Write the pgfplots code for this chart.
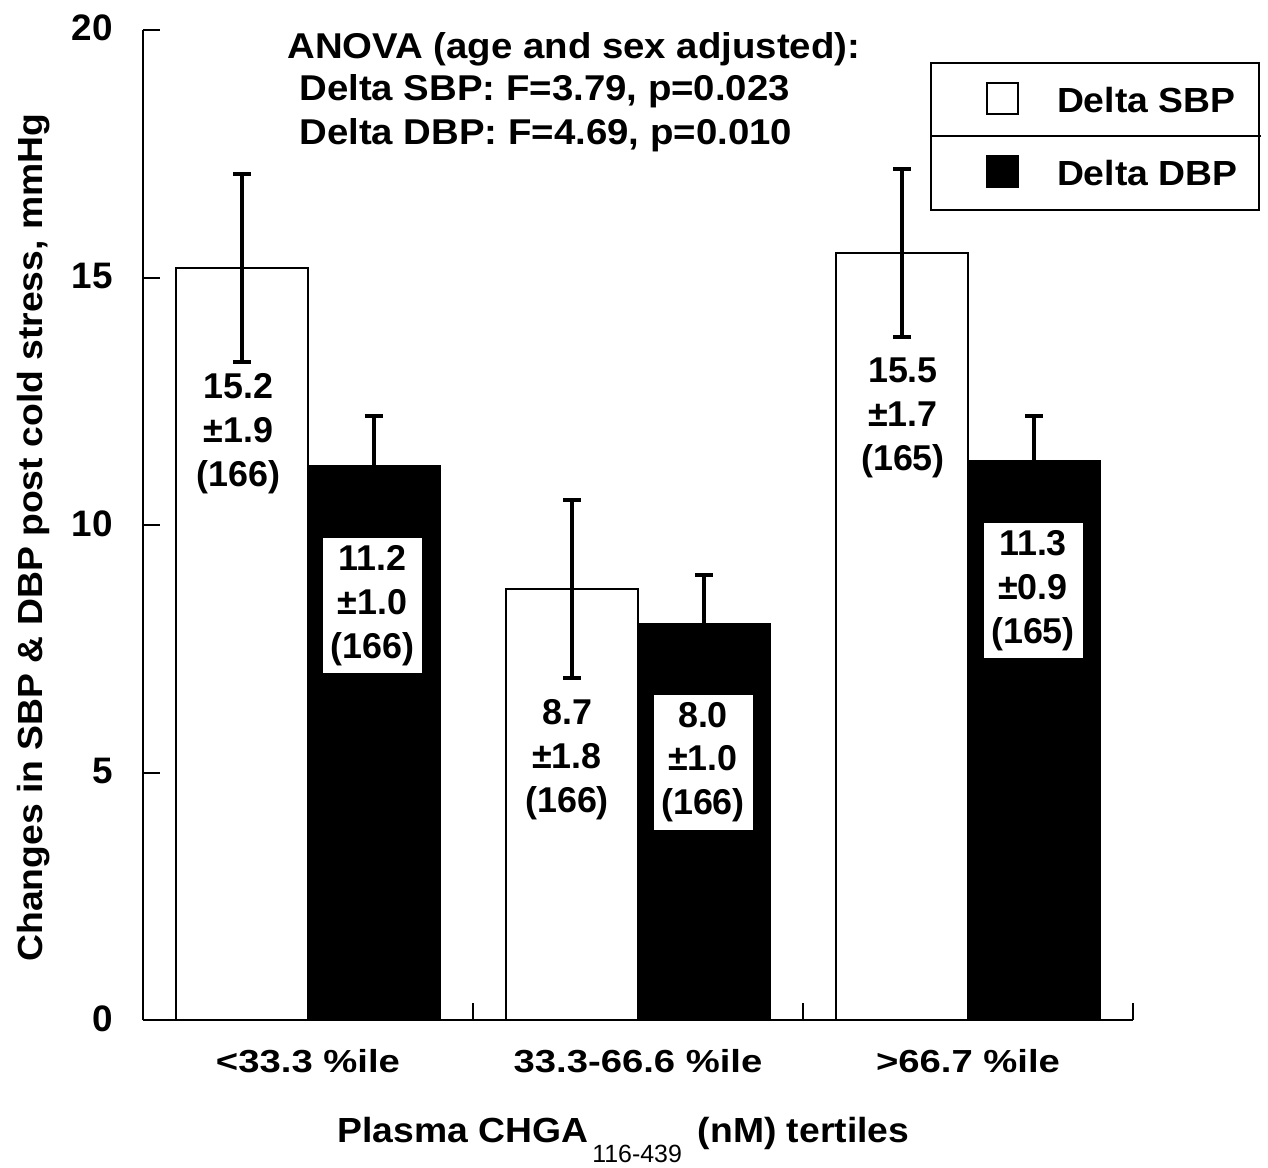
\documentclass[border=0pt]{standalone}
\usepackage{pgfplots}
\pgfplotsset{compat=1.18}
\usepackage{fontspec}
\setmainfont{Liberation Sans}[FakeStretch=1.07]
\newfontfamily\plainfont{Liberation Sans}
\newfontfamily\widefont{Liberation Sans}[FakeStretch=1.2]
\begin{document}
\begin{tikzpicture}
\begin{axis}[
  scale only axis, width=495bp, height=495bp,
  xmin=0, xmax=3, ymin=0, ymax=20,
  axis lines*=left,
  axis line style={line width=1bp, black},
  clip=false,
  xtick={1,2,3}, xticklabels={},
  extra x ticks={0.5,1.5,2.5},
  extra x tick labels={{<33.3 \%ile},{33.3-66.6 \%ile},{>66.7 \%ile}},
  extra x tick style={major tick length=0pt},
  ytick={0,5,10,15,20},
  tick align=inside,
  major tick length=8.5bp,
  tick style={line width=1bp, black},
  /pgf/number format/assume math mode=true,
  xticklabel style={font=\widefont\bfseries\fontsize{16}{16}\selectfont, anchor=base, inner sep=0pt, yshift=-26bp},
  yticklabel style={font=\plainfont\bfseries\fontsize{18.5}{18.5}\selectfont, anchor=base east, inner sep=0pt, xshift=-15bp, yshift=-5.5bp},
  legend style={at={(axis cs:2.385,19.354)}, anchor=north west, draw=black, line width=1bp,
    inner sep=0pt, row sep=0pt, column sep=0pt,
    font=\bfseries\fontsize{17.5}{17.5}\selectfont},
  legend cell align=left,
]
\addplot[ybar, bar width=0.4, bar shift=0pt, fill=white, draw=black, line width=1bp,
  legend image code/.code={
    \path[draw=none, fill=none] (-28bp,-17.75bp) rectangle (33bp,19bp);
    \draw[line width=1bp, fill=white, draw=black] (0bp,-6.5bp) rectangle (15.5bp,9bp);
    \draw[overlay, line width=1bp, black] (-28bp,-17.75bp) -- (137bp,-17.75bp);
  },
  error bars/.cd, y dir=both, y explicit,
  error bar style={line width=2bp, black},
  error mark options={rotate=90, line width=2bp, mark size=4.5bp, black}]
  coordinates {(0.3,15.2) +- (0,1.9) (1.3,8.7) +- (0,1.8) (2.3,15.5) +- (0,1.7)};
\addlegendentry{Delta SBP\hspace*{9bp}}
\addplot[ybar, bar width=0.4, bar shift=0pt, fill=black, draw=black, line width=1bp,
  legend image code/.code={
    \path[draw=none, fill=none] (-28bp,-17.75bp) rectangle (33bp,19bp);
    \draw[line width=1bp, fill=black, draw=black] (0bp,-6.5bp) rectangle (15.5bp,9bp);
  },
  error bars/.cd, y dir=both, y explicit,
  error bar style={line width=2bp, black},
  error mark options={rotate=90, line width=2bp, mark size=4.5bp, black}]
  coordinates {(0.7,11.2) +- (0,1.0) (1.7,8.0) +- (0,1.0) (2.7,11.3) +- (0,0.9)};
\addlegendentry{Delta DBP\hspace*{9bp}}

% value labels
\tikzset{vlab/.style={align=center, inner sep=0pt, font=\plainfont\bfseries\fontsize{18}{22}\selectfont},
         vbox/.style={vlab, fill=white, minimum width=49.5bp, minimum height=67.5bp}}
\node[vlab] at (axis cs:0.29,11.85) {15.2\\±1.9\\(166)};
\node[vbox] at (axis cs:0.695,8.374) {11.2\\±1.0\\(166)};
\node[vlab] at (axis cs:1.285,5.26) {8.7\\±1.8\\(166)};
\node[vbox] at (axis cs:1.697,5.21) {8.0\\±1.0\\(166)};
\node[vlab] at (axis cs:2.303,12.17) {15.5\\±1.7\\(165)};
\node[vbox] at (axis cs:2.697,8.667) {11.3\\±0.9\\(165)};

% ANOVA annotation
\tikzset{anov/.style={anchor=base west, inner sep=0pt, font=\bfseries\fontsize{18}{18}\selectfont}}
\node[anov] at (axis cs:0.4364,19.434) {ANOVA (age and sex adjusted):};
\node[anov] at (axis cs:0.4727,18.566) {Delta SBP: F=3.79, p=0.023};
\node[anov] at (axis cs:0.4727,17.677) {Delta DBP: F=4.69, p=0.010};

% axis labels
\node[anchor=base west, inner sep=0pt, font=\bfseries\fontsize{17.5}{17.5}\selectfont]
  at (axis cs:0.588,-2.465) {Plasma CHGA\kern2bp\raisebox{-10bp}{\mdseries\plainfont\fontsize{12.5}{12.5}\selectfont 116-439}\kern8bp(nM) tertiles};
\node[anchor=base west, inner sep=0pt, rotate=90, font=\bfseries\fontsize{17.5}{17.5}\selectfont]
  at (axis cs:-0.306,1.172) {Changes in SBP \& DBP post cold stress, mmHg};

\coordinate (bbsw) at (axis cs:-0.4333,-2.9697);
\coordinate (bbne) at (axis cs:3.4091,20.6061);
\end{axis}
\pgfresetboundingbox
\path (bbsw) rectangle (bbne);
\end{tikzpicture}
\end{document}
